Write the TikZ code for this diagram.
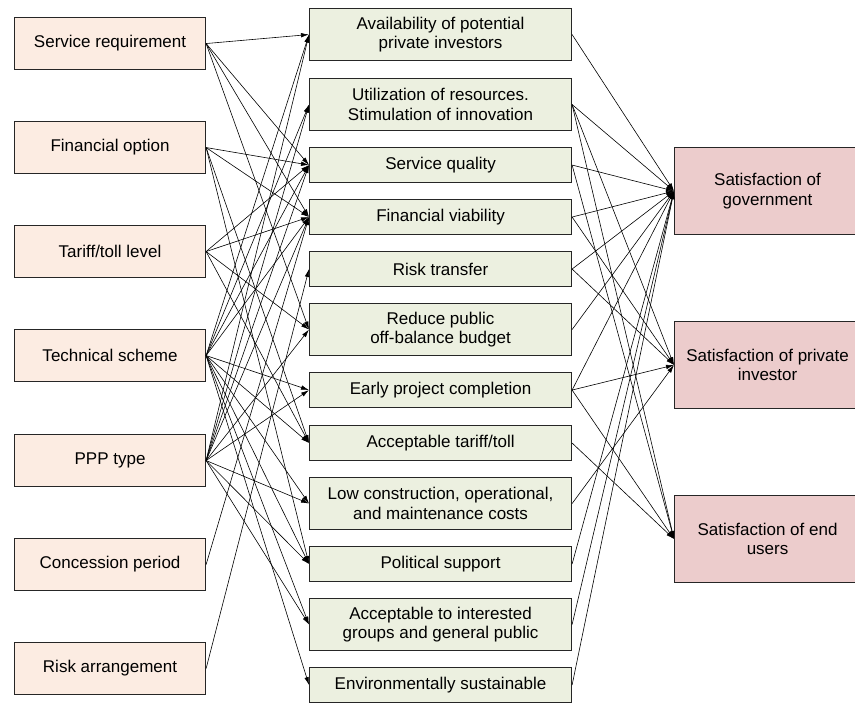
\documentclass[tikz,border=0pt]{standalone}
\usepackage{fontspec}
\setmainfont{Liberation Sans}
\usetikzlibrary{arrows.meta}
\definecolor{infill}{RGB}{252,236,226}
\definecolor{midfill}{RGB}{236,240,224}
\definecolor{outfill}{RGB}{236,204,204}
\begin{document}
\begin{tikzpicture}[x=1pt,y=-1pt,
  box/.style={draw=black!85, line width=1.1pt, inner sep=0pt, align=center,
    anchor=north west, font=\fontsize{17}{19.5}\selectfont},
  inbox/.style={box, fill=infill, minimum width=191pt, minimum height=52pt},
  midbox/.style={box, fill=midfill, minimum width=262pt},
  tall/.style={minimum height=52pt},
  short/.style={minimum height=35pt},
  outbox/.style={box, fill=outfill, minimum width=186pt, minimum height=87pt},
  edge/.style={line width=0.6pt, -{Latex[length=8pt,width=4.5pt]}}
]
\useasboundingbox (0,0) rectangle (855,703);

% project characteristics
\node[inbox] (s1) at (14,17)  {Service requirement};
\node[inbox] (s2) at (14,121) {Financial option};
\node[inbox] (s3) at (14,225) {Tariff/toll level};
\node[inbox] (s4) at (14,329) {Technical scheme};
\node[inbox] (s5) at (14,434) {PPP type};
\node[inbox] (s6) at (14,538) {Concession period};
\node[inbox] (s7) at (14,642) {Risk arrangement};

% objectives
\node[midbox,tall]  (m1)  at (309,8)   {Availability of potential\\private investors};
\node[midbox,tall]  (m2)  at (309,78)  {Utilization of resources.\\Stimulation of innovation};
\node[midbox,short] (m3)  at (309,147) {Service quality};
\node[midbox,short] (m4)  at (309,199) {Financial viability};
\node[midbox,short] (m5)  at (309,251) {Risk transfer};
\node[midbox,tall]  (m6)  at (309,303) {Reduce public\\off-balance budget};
\node[midbox,short] (m7)  at (309,372) {Early project completion};
\node[midbox,short] (m8)  at (309,425) {Acceptable tariff/toll};
\node[midbox,tall]  (m9)  at (309,477) {Low construction, operational,\\and maintenance costs};
\node[midbox,short] (m10) at (309,546) {Political support};
\node[midbox,tall]  (m11) at (309,598) {Acceptable to interested\\groups and general public};
\node[midbox,short] (m12) at (309,667) {Environmentally sustainable};

% stakeholder satisfaction
\node[outbox] (g) at (674,147) {Satisfaction of\\government};
\node[outbox] (p) at (674,321) {Satisfaction of private\\investor};
\node[outbox] (e) at (674,495) {Satisfaction of end\\users};

% characteristics -> objectives
\foreach \a/\b in {s1/m1,s1/m3,s1/m4,s1/m6,
                   s2/m3,s2/m4,s2/m8,s2/m10,
                   s3/m3,s3/m4,s3/m6,s3/m8,
                   s4/m1,s4/m2,s4/m3,s4/m4,s4/m7,s4/m8,s4/m9,s4/m10,s4/m11,s4/m12,
                   s5/m1,s5/m2,s5/m3,s5/m4,s5/m6,s5/m7,s5/m9,s5/m10,s5/m11,
                   s6/m4,
                   s7/m5}
  \draw[edge] (\a.east) -- (\b.west);

% objectives -> satisfaction
\foreach \a/\b in {m1/g,m2/g,m2/p,m2/e,m3/g,m3/e,m4/g,m4/p,m5/g,m5/p,m6/g,
                   m7/g,m7/p,m7/e,m8/e,m9/p,m10/g,m11/g,m12/g}
  \draw[edge] (\a.east) -- (\b.west);
\end{tikzpicture}
\end{document}
